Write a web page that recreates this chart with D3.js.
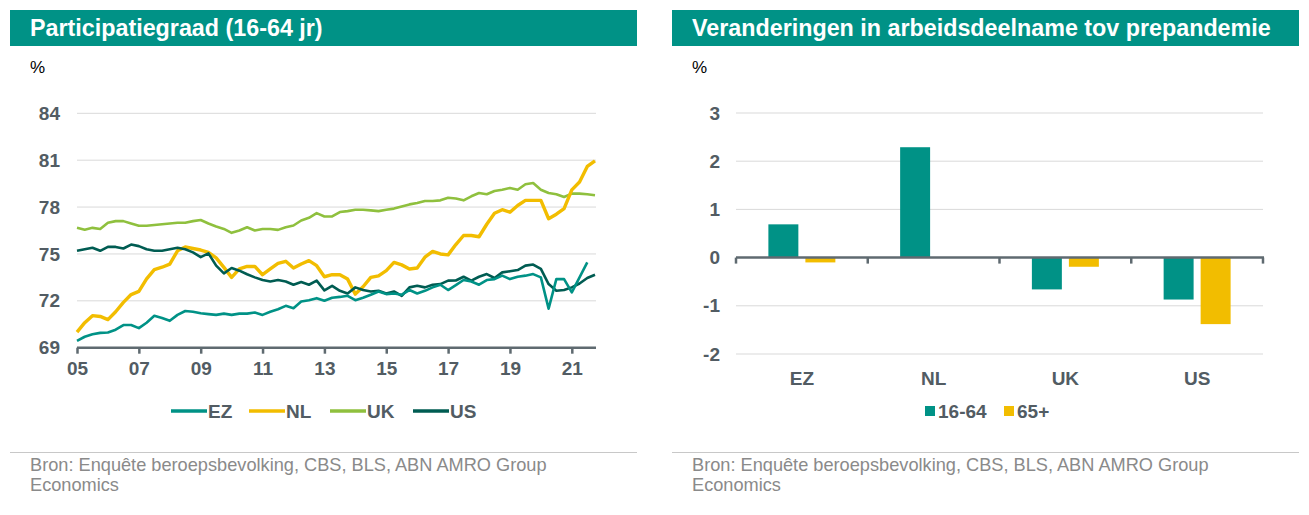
<!DOCTYPE html>
<html>
<head>
<meta charset="utf-8">
<script src="https://cdn.jsdelivr.net/npm/d3@7"></script>
<style>
  body { margin: 0; background: #fff; }
  svg { display: block; font-family: "Liberation Sans", Arial, sans-serif; }
</style>
</head>
<body>
<svg id="chart" width="1309" height="515"></svg>
<script>
// quarterly data, 2005Q1 - 2021Q4
const quarters = d3.range(68).map(i => 2005 + i / 4);
const yearTicks = [2005, 2007, 2009, 2011, 2013, 2015, 2017, 2019, 2021];
const leftYTicks = [69, 72, 75, 78, 81, 84];

const ez = [69.43, 69.7, 69.86, 69.95, 69.97, 70.15, 70.45, 70.45, 70.25, 70.6, 71.04, 70.9, 70.72, 71.1, 71.35, 71.3,
  71.2, 71.15, 71.1, 71.18, 71.1, 71.18, 71.18, 71.25, 71.1, 71.3, 71.46, 71.68, 71.53, 71.96, 72.04, 72.17,
  72.0, 72.2, 72.25, 72.32, 72.04, 72.2, 72.39, 72.6, 72.43, 72.47, 72.39, 72.69, 72.47, 72.64, 72.86, 73.03,
  72.69, 73.0, 73.33, 73.24, 73.03, 73.33, 73.39, 73.61, 73.39, 73.54, 73.61, 73.71, 73.5, 71.5, 73.39, 73.39,
  72.54, 73.5, 74.46];
const nl = [70.0, 70.6, 71.05, 71.0, 70.8, 71.3, 71.9, 72.4, 72.6, 73.4, 74.0, 74.15, 74.35, 75.2, 75.45, 75.35,
  75.25, 75.1, 74.75, 74.14, 73.5, 74.04, 74.2, 74.2, 73.67, 74.04, 74.4, 74.53, 74.1, 74.36, 74.57, 74.25,
  73.54, 73.67, 73.67, 73.39, 72.43, 72.9, 73.5, 73.6, 73.93, 74.46, 74.3, 74.04, 74.1, 74.79, 75.16, 75.0,
  74.94, 75.6, 76.18, 76.18, 76.1, 76.9, 77.6, 77.83, 77.67, 78.1, 78.43, 78.43, 78.43, 77.25, 77.54, 77.9,
  79.1, 79.6, 80.6, 80.96];
const uk = [76.67, 76.55, 76.67, 76.6, 77.0, 77.1, 77.1, 76.95, 76.8, 76.8, 76.85, 76.9, 76.95, 77.0, 77.0, 77.1,
  77.17, 76.95, 76.76, 76.6, 76.35, 76.5, 76.71, 76.5, 76.6, 76.6, 76.54, 76.71, 76.82, 77.14, 77.31, 77.61,
  77.4, 77.4, 77.68, 77.74, 77.83, 77.83, 77.79, 77.74, 77.83, 77.9, 78.04, 78.17, 78.26, 78.39, 78.39, 78.43,
  78.6, 78.55, 78.43, 78.69, 78.9, 78.82, 79.03, 79.11, 79.22, 79.11, 79.46, 79.54, 79.11, 78.9, 78.82, 78.64,
  78.86, 78.86, 78.82, 78.76];
const us = [75.2, 75.3, 75.4, 75.2, 75.45, 75.45, 75.35, 75.6, 75.5, 75.3, 75.2, 75.2, 75.3, 75.4, 75.3, 75.1,
  74.8, 75.04, 74.25, 73.76, 74.1, 73.93, 73.7, 73.5, 73.33, 73.24, 73.33, 73.24, 73.03, 73.2, 73.03, 73.29,
  72.67, 72.96, 72.64, 72.47, 72.86, 72.69, 72.6, 72.64, 72.47, 72.6, 72.32, 72.86, 72.96, 72.86, 73.03, 73.07,
  73.29, 73.3, 73.54, 73.29, 73.54, 73.71, 73.46, 73.82, 73.89, 73.97, 74.25, 74.32, 74.04, 73.07, 72.64, 72.69,
  72.86, 73.11, 73.46, 73.67];

// right chart: change vs pre-pandemic, %-points
const countries = ['EZ', 'NL', 'UK', 'US'];
const ageGroups = ['16-64', '65+'];
const change1664 = [0.69, 2.29, -0.66, -0.87];
const change65plus = [-0.1, 0, -0.19, -1.38];
const rightYTicks = [-2, -1, 0, 1, 2, 3];

const TEAL = '#009286', YELLOW = '#f2bd00', LIGHTGREEN = '#8fc03e', DARKGREEN = '#005c52';
const TEXT = '#525c63', AXIS = '#5f6a70', GRID = '#d9d9d9', SOURCE = '#8a8a8a';

const svg = d3.select('#chart');

function panelFrame(x0, title) {
    svg.append('rect')
        .attr('x', x0).attr('y', 10)
        .attr('width', 627).attr('height', 36)
        .attr('fill', TEAL);
    svg.append('text')
        .attr('x', x0 + 20).attr('y', 36)
        .attr('fill', '#fff')
        .style('font-size', '23.3px')
        .style('font-weight', 'bold')
        .text(title);
    svg.append('text')
        .attr('x', x0 + 20).attr('y', 73)
        .attr('fill', '#000')
        .style('font-size', '17px')
        .text('%');
    svg.append('line')
        .attr('x1', x0).attr('x2', x0 + 627)
        .attr('y1', 452.5).attr('y2', 452.5)
        .attr('stroke', '#c8c8c8');
    const src = svg.append('text')
        .attr('fill', SOURCE)
        .style('font-size', '18.2px');
    src.append('tspan').attr('x', x0 + 20).attr('y', 471)
        .text('Bron: Enquête beroepsbevolking, CBS, BLS, ABN AMRO Group');
    src.append('tspan').attr('x', x0 + 20).attr('y', 491)
        .text('Economics');
}

function styleLabels(g, size) {
    g.selectAll('text')
        .attr('fill', TEXT)
        .style('font-size', size)
        .style('font-weight', 'bold')
        .style('font-family', '"Liberation Sans", Arial, sans-serif');
}

// ---------- left panel: participation rate ----------
panelFrame(10, 'Participatiegraad (16-64 jr)');

const x = d3.scaleLinear().domain([2005, 2021.75]).range([77, 595]);
const y = d3.scaleLinear().domain([69, 84]).range([347.7, 113.3]);

svg.append('g')
    .selectAll('line')
    .data(leftYTicks.slice(1))
    .join('line')
    .attr('x1', 77).attr('x2', 596)
    .attr('y1', d => y(d)).attr('y2', d => y(d))
    .attr('stroke', GRID);

const yAxisL = svg.append('g')
    .attr('transform', 'translate(66,0)')
    .call(d3.axisLeft(y).tickValues(leftYTicks).tickSize(0).tickPadding(6));
yAxisL.select('.domain').remove();
styleLabels(yAxisL, '19px');

const xAxisL = svg.append('g')
    .attr('transform', `translate(0,${y(69)})`)
    .call(d3.axisBottom(x).tickValues(yearTicks).tickSize(6).tickPadding(8)
        .tickFormat(d => String(d).slice(2)));
xAxisL.select('.domain').attr('d', `M77,0H596`).attr('stroke', AXIS).attr('stroke-width', 2.5);
xAxisL.selectAll('.tick line').attr('stroke', AXIS).attr('stroke-width', 2.5);
styleLabels(xAxisL, '19px');

const series = [
    {name: 'EZ', values: ez, color: TEAL, width: 2.6},
    {name: 'NL', values: nl, color: YELLOW, width: 3.4},
    {name: 'UK', values: uk, color: LIGHTGREEN, width: 2.6},
    {name: 'US', values: us, color: DARKGREEN, width: 2.6}
];

const line = d3.line()
    .x((d, i) => x(quarters[i]))
    .y(d => y(d));

// draw order: UK, NL, US, EZ
[series[2], series[1], series[3], series[0]].forEach(s => {
    svg.append('path')
        .datum(s.values)
        .attr('d', line)
        .attr('fill', 'none')
        .attr('stroke', s.color)
        .attr('stroke-width', s.width)
        .attr('stroke-linejoin', 'round');
});

// legend
const legendX = [171, 249, 330, 413];
series.forEach((s, i) => {
    svg.append('line')
        .attr('x1', legendX[i]).attr('x2', legendX[i] + 36)
        .attr('y1', 411).attr('y2', 411)
        .attr('stroke', s.color)
        .attr('stroke-width', 3.5);
    svg.append('text')
        .attr('x', legendX[i] + 37).attr('y', 418)
        .attr('fill', TEXT)
        .style('font-size', '19px')
        .style('font-weight', 'bold')
        .text(s.name);
});

// ---------- right panel: change in participation ----------
panelFrame(672, 'Veranderingen in arbeidsdeelname tov prepandemie');

const xc = d3.scaleBand().domain(countries).range([736, 1263]);
const xg = d3.scaleBand().domain(ageGroups).range([0, xc.bandwidth()])
    .paddingInner(0.19).paddingOuter(0.875);
const yr = d3.scaleLinear().domain([-2, 3]).range([354, 113]);

svg.append('g')
    .selectAll('line')
    .data(rightYTicks.filter(d => d !== 0))
    .join('line')
    .attr('x1', 736).attr('x2', 1263)
    .attr('y1', d => yr(d)).attr('y2', d => yr(d))
    .attr('stroke', GRID);

// plain hyphen for negatives, like the original
const yAxisR = svg.append('g')
    .attr('transform', 'translate(726,0)')
    .call(d3.axisLeft(yr).tickValues(rightYTicks).tickSize(0).tickPadding(6)
        .tickFormat(d => String(d)));
yAxisR.select('.domain').remove();
styleLabels(yAxisR, '19px');

const barData = countries.flatMap((c, i) => [
    {country: c, group: '16-64', value: change1664[i]},
    {country: c, group: '65+', value: change65plus[i]}
]);
const barColor = d3.scaleOrdinal().domain(ageGroups).range([TEAL, YELLOW]);

svg.append('g')
    .selectAll('rect')
    .data(barData)
    .join('rect')
    .attr('x', d => xc(d.country) + xg(d.group))
    .attr('width', xg.bandwidth())
    .attr('y', d => yr(Math.max(0, d.value)))
    .attr('height', d => Math.abs(yr(d.value) - yr(0)))
    .attr('fill', d => barColor(d.group));

// zero line with ticks at category boundaries
const zeroAxis = svg.append('g').attr('transform', `translate(0,${yr(0)})`);
zeroAxis.append('line')
    .attr('x1', 736).attr('x2', 1264)
    .attr('stroke', AXIS).attr('stroke-width', 2.5);
zeroAxis.selectAll('.sep')
    .data(countries.map(c => xc(c)).concat([xc.range()[1]]))
    .join('line')
    .attr('class', 'sep')
    .attr('x1', d => d).attr('x2', d => d)
    .attr('y1', 0).attr('y2', 6)
    .attr('stroke', AXIS).attr('stroke-width', 2.5);

svg.append('g')
    .selectAll('text')
    .data(countries)
    .join('text')
    .attr('x', d => xc(d) + xc.bandwidth() / 2)
    .attr('y', 385)
    .attr('text-anchor', 'middle')
    .attr('fill', TEXT)
    .style('font-size', '19px')
    .style('font-weight', 'bold')
    .text(d => d);

const legendR = [{x: 925, label: '16-64'}, {x: 1004, label: '65+'}];
legendR.forEach((l, i) => {
    svg.append('rect')
        .attr('x', l.x).attr('y', 406)
        .attr('width', 10).attr('height', 10)
        .attr('fill', barColor(ageGroups[i]));
    svg.append('text')
        .attr('x', l.x + 13).attr('y', 418)
        .attr('fill', TEXT)
        .style('font-size', '19px')
        .style('font-weight', 'bold')
        .text(l.label);
});
</script>
</body>
</html>
